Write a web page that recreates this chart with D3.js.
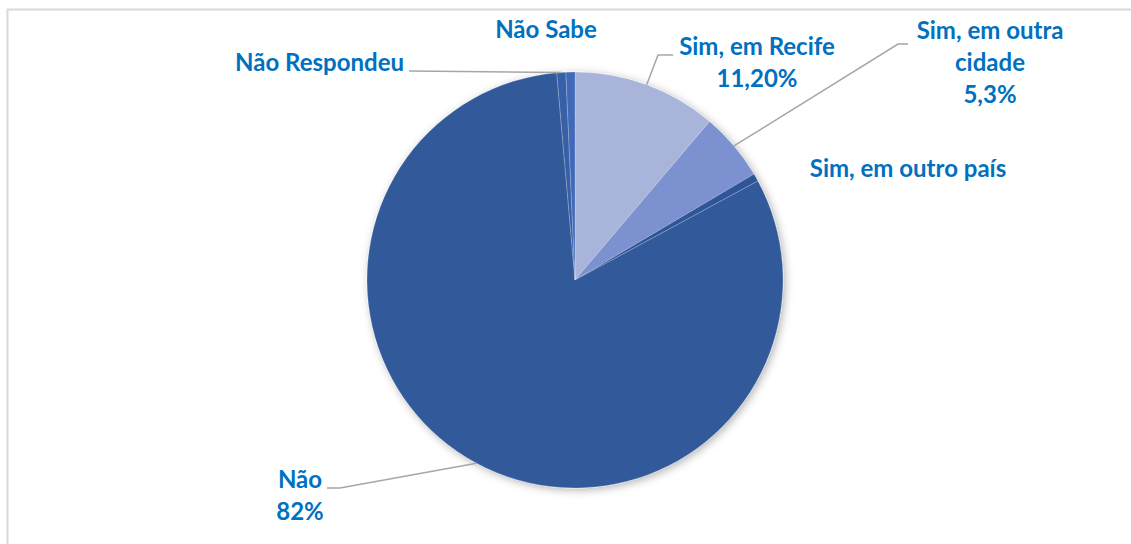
<!DOCTYPE html>
<html>
<head>
<meta charset="utf-8">
<script src="https://cdn.jsdelivr.net/npm/d3@7"></script>
<style>
  body { margin: 0; background: #fff; }
  text { font-family: Lato, "Open Sans", sans-serif; font-weight: 700; }
</style>
</head>
<body>
<div id="chart"></div>
<script>
// Data (clockwise from 12 o'clock)
var categories = ["Sim, em Recife", "Sim, em outra cidade", "Sim, em outro país", "Não", "Não Respondeu", "Não Sabe"];
var values = [11.2, 5.3, 0.6, 81.5, 0.7, 0.7];
var valueLabels = ["11,20%", "5,3%", "", "82%", "", ""];
var labelLines = [["Sim, em Recife"], ["Sim, em outra", "cidade"], ["Sim, em outro país"], ["Não"], ["Não Respondeu"], ["Não Sabe"]];
var colors = ["#a8b4da", "#7b92d0", "#2f5597", "#335a9b", "#3760a6", "#4069b9"];

var svgWidth = 1131;
var svgHeight = 544;
var cx = 575, cy = 280, radius = 208;

// label layout: anchor x, first baseline, text-anchor, leader end points (elbow) or null
var labelLayout = [
  { x: 757, y: 55, anchor: "middle", leader: [[658, 55], [673, 55]] },
  { x: 990, y: 39, anchor: "middle", leader: [[898, 44], [908, 44]] },
  { x: 908, y: 177, anchor: "middle", leader: null },
  { x: 300, y: 488, anchor: "middle", leader: [[340, 488], [327, 488]] },
  { x: 404, y: 71, anchor: "end", leader: [[409, 71]] },
  { x: 546, y: 38, anchor: "middle", leader: null }
];
var lineHeight = 32;

var svg = d3.select("#chart")
  .append("svg")
  .attr("width", svgWidth)
  .attr("height", svgHeight);

var defs = svg.append("defs");
var filter = defs.append("filter")
  .attr("id", "shadow")
  .attr("x", "-10%").attr("y", "-10%")
  .attr("width", "120%").attr("height", "120%");
filter.append("feDropShadow")
  .attr("dx", 2).attr("dy", 2)
  .attr("stdDeviation", 4)
  .attr("flood-color", "#000")
  .attr("flood-opacity", 0.3);

// chart border
svg.append("rect")
  .attr("x", 7.5).attr("y", 9.5)
  .attr("width", svgWidth + 10).attr("height", svgHeight + 10)
  .attr("fill", "none")
  .attr("stroke", "#d9d9d9")
  .attr("stroke-width", 2);

var data = categories.map(function(c, i) {
  return { name: c, value: values[i], pct: valueLabels[i], lines: labelLines[i], color: colors[i], layout: labelLayout[i] };
});

var pie = d3.pie()
  .sort(null)
  .value(d => d.value);

var arc = d3.arc()
  .innerRadius(0)
  .outerRadius(radius);

var arcs = pie(data);

var pieGroup = svg.append("g")
  .attr("transform", `translate(${cx}, ${cy})`);

pieGroup.append("g")
  .attr("filter", "url(#shadow)")
  .selectAll("path")
  .data(arcs)
  .enter()
  .append("path")
  .attr("d", arc)
  .attr("fill", d => d.data.color)
  .attr("stroke", "rgba(255,255,255,0.35)")
  .attr("stroke-width", 0.6);

// leader lines
arcs.forEach(function(a) {
  var lay = a.data.layout;
  if (!lay.leader) return;
  var mid = (a.startAngle + a.endAngle) / 2;
  var start = [cx + radius * Math.sin(mid), cy - radius * Math.cos(mid)];
  var pts = [start].concat(lay.leader);
  svg.append("polyline")
    .attr("points", pts.map(p => p.join(",")).join(" "))
    .attr("fill", "none")
    .attr("stroke", "#a6a6a6")
    .attr("stroke-width", 1.5);
});

// labels
arcs.forEach(function(a) {
  var lay = a.data.layout;
  var lines = a.data.lines.slice();
  if (a.data.pct) lines.push(a.data.pct);
  var t = svg.append("text")
    .attr("text-anchor", lay.anchor)
    .attr("fill", "#0070c0")
    .style("font-size", "24px");
  lines.forEach(function(l, i) {
    t.append("tspan")
      .attr("x", lay.x)
      .attr("y", lay.y + i * lineHeight)
      .text(l);
  });
});
</script>
</body>
</html>
